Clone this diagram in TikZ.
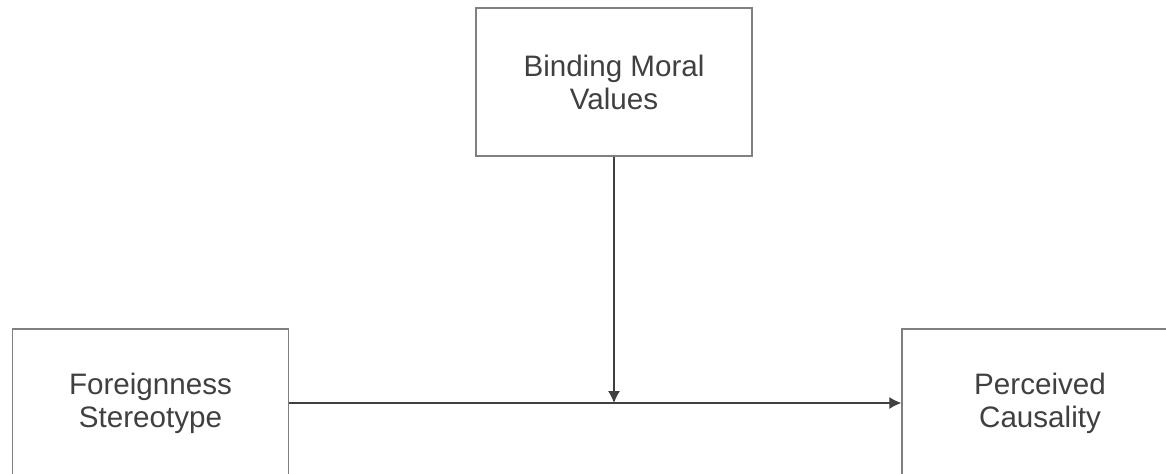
\documentclass[tikz,border=0pt]{standalone}
\usepackage{fontspec}
\setmainfont{Liberation Sans}
\usetikzlibrary{arrows.meta,positioning}
\definecolor{boxgray}{RGB}{128,128,128}
\definecolor{txtgray}{RGB}{64,64,64}
\tikzset{
  varbox/.style={draw=boxgray,line width=0.7pt,minimum width=138pt,minimum height=74pt,
    align=center,text=txtgray,font=\fontsize{14.8pt}{16.5pt}\selectfont},
  path/.style={line width=0.6pt,draw=black!75,-{Latex[length=6pt,width=6pt]}}
}

\begin{document}
\begin{tikzpicture}[x=0.5pt,y=-0.5pt]
\clip (0,0) rectangle (1166,473);
\node[varbox] (bmv) at (614,82) {Binding Moral\\Values};
\node[varbox] (fs) at (150.5,403) {Foreignness\\Stereotype};
\node[varbox] (pc) at (1040,403) {Perceived\\Causality};
\draw[path] (fs) -- (pc);
\draw[path] (bmv) -- (bmv |- fs);
\end{tikzpicture}
\end{document}
